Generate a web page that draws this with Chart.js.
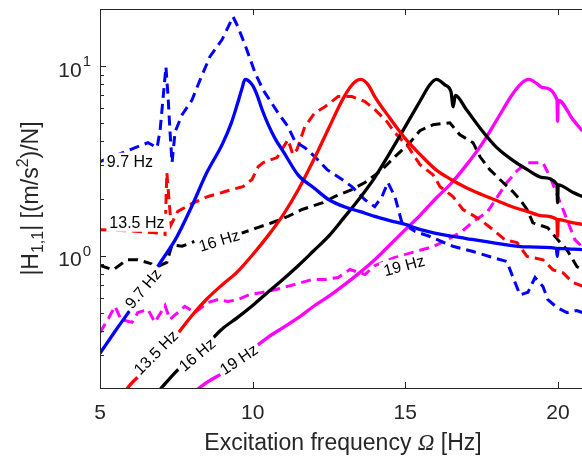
<!DOCTYPE html>
<html>
<head>
<meta charset="utf-8">
<script src="https://cdn.jsdelivr.net/npm/chart.js@4.4.1/dist/chart.umd.min.js"></script>
<style>
  html, body { margin: 0; padding: 0; background: #fff; }
  #wrap { width: 582px; height: 459px; }
</style>
</head>
<body>
<div id="wrap"><canvas id="frf" width="582" height="459"></canvas></div>
<script>
// Model FRFs (solid) - frequency [Hz] and |H11| [(m/s^2)/N]
const fBlueFit = [5.0, 5.5, 6.0, 6.5, 7.0, 7.5, 8.0, 8.5, 9.0, 9.3, 9.5, 9.65, 9.75, 9.85, 10.0, 10.15, 10.3, 10.5, 10.75, 11.0, 11.5, 12.0, 12.5, 13.0, 13.5, 14.0, 14.5, 15.0, 15.5, 16.0, 17.0, 18.0, 19.0, 19.95, 19.98, 20.01, 20.5, 20.8];
const hBlueFit = [0.305, 0.40, 0.52, 0.70, 0.93, 1.24, 1.81, 2.74, 3.85, 5.0, 6.3, 7.6, 8.5, 8.4, 7.9, 7.0, 5.95, 4.95, 4.1, 3.55, 2.65, 2.28, 1.97, 1.81, 1.71, 1.61, 1.53, 1.46, 1.37, 1.31, 1.23, 1.16, 1.11, 1.09, 0.99, 1.09, 1.08, 1.075];

const fRedFit = [5.8, 6.0, 6.5, 7.0, 7.5, 8.0, 8.5, 9.0, 9.5, 10.0, 10.5, 11.0, 11.5, 12.0, 12.5, 13.0, 13.3, 13.55, 13.8, 14.0, 14.5, 15.0, 15.5, 16.0, 16.5, 17.0, 17.5, 18.0, 18.5, 19.0, 19.5, 19.97, 19.99, 20.01, 20.4, 20.8];
const hRedFit = [0.19, 0.209, 0.25, 0.31, 0.38, 0.48, 0.59, 0.70, 0.82, 1.01, 1.27, 1.64, 2.23, 3.2, 4.73, 6.9, 8.1, 8.5, 7.9, 6.9, 5.3, 4.14, 3.4, 2.84, 2.52, 2.28, 2.1, 1.95, 1.81, 1.71, 1.62, 1.55, 1.26, 1.55, 1.5, 1.46];

const fBlackFit = [6.95, 7.5, 8.0, 8.5, 9.0, 9.5, 10.0, 10.5, 11.0, 11.5, 12.0, 12.5, 13.0, 13.5, 14.0, 14.5, 15.0, 15.5, 15.8, 16.02, 16.3, 16.5, 16.57, 16.64, 17.0, 17.5, 18.0, 18.5, 19.0, 19.5, 19.97, 19.99, 20.01, 20.5, 20.8];
const hBlackFit = [0.195, 0.245, 0.29, 0.34, 0.41, 0.47, 0.545, 0.64, 0.75, 0.886, 1.06, 1.27, 1.59, 2.0, 2.58, 3.49, 4.79, 6.6, 7.95, 8.5, 7.95, 7.3, 6.1, 7.0, 5.9, 4.6, 3.71, 3.2, 2.84, 2.58, 2.37, 1.9, 2.36, 2.15, 2.05];

const fMagFit = [8.2, 8.5, 9.0, 9.5, 10.0, 10.5, 11.0, 11.5, 12.0, 12.5, 13.0, 13.5, 14.0, 14.5, 15.0, 15.5, 16.0, 16.5, 17.0, 17.5, 18.0, 18.5, 18.8, 19.05, 19.3, 19.5, 19.97, 19.99, 20.01, 20.5, 20.8];
const hMagFit = [0.197, 0.214, 0.239, 0.27, 0.32, 0.37, 0.417, 0.47, 0.54, 0.61, 0.70, 0.81, 0.95, 1.14, 1.37, 1.64, 2.0, 2.4, 3.0, 3.85, 5.2, 7.06, 8.1, 8.5, 8.1, 7.7, 6.65, 5.1, 6.6, 5.2, 4.55];

// Measured FRFs (dashed)
const fBlueMeas = [5.0, 6.57, 6.87, 6.97, 7.16, 7.23, 7.29, 7.36, 7.46, 7.69, 8.01, 8.28, 8.6, 9.0, 9.36, 9.52, 9.81, 10.08, 10.34, 10.83, 11.16, 11.39, 11.71, 12.04, 12.44, 12.93, 13.25, 13.68, 14.0, 14.24, 14.43, 14.66, 14.89, 15.32, 15.81, 16.56, 17.22, 17.87, 18.33, 18.53, 18.76, 19.02, 19.25, 19.51, 19.67, 19.97, 20.3, 20.62, 20.8];
const hBlueMeas = [3.13, 3.94, 3.71, 4.6, 9.9, 6.9, 4.6, 3.09, 4.5, 5.54, 6.6, 8.47, 11.2, 13.8, 18.2, 16.1, 12.2, 9.2, 7.5, 5.67, 4.79, 3.99, 3.71, 3.32, 2.84, 2.52, 2.31, 1.97, 1.81, 2.05, 2.43, 2.05, 1.49, 1.34, 1.26, 1.12, 1.05, 0.976, 0.93, 0.766, 0.62, 0.64, 0.766, 0.687, 0.586, 0.532, 0.50, 0.513, 0.50];

const fRedMeas = [5.0, 6.0, 7.0, 7.13, 7.19, 7.26, 7.33, 7.55, 8.01, 8.54, 9.0, 9.32, 9.68, 9.98, 10.18, 10.34, 10.8, 11.16, 11.32, 11.45, 11.71, 12.04, 12.37, 12.8, 13.25, 13.68, 14.0, 14.4, 14.66, 15.09, 15.48, 15.91, 16.14, 16.56, 16.89, 17.45, 17.87, 18.27, 18.66, 18.99, 19.51, 19.84, 20.17, 20.49, 20.8];
const hRedMeas = [1.37, 1.35, 1.31, 1.29, 2.74, 1.97, 1.46, 1.71, 1.88, 2.05, 2.15, 2.23, 2.31, 2.52, 2.94, 3.09, 3.29, 4.09, 3.41, 3.62, 4.79, 5.67, 6.1, 6.9, 6.9, 6.5, 5.9, 5.09, 4.45, 3.76, 3.02, 2.67, 2.31, 2.05, 1.75, 1.55, 1.37, 1.21, 1.17, 0.99, 0.95, 0.84, 0.81, 0.72, 0.69];

const fBlackMeas = [5.0, 5.43, 5.88, 6.24, 6.64, 6.9, 7.19, 7.36, 7.69, 8.11, 8.93, 9.68, 10.14, 10.63, 11.16, 11.62, 12.3, 12.7, 13.25, 13.68, 14.24, 14.66, 15.15, 15.48, 15.91, 16.46, 16.79, 17.22, 17.45, 17.77, 18.17, 18.53, 18.76, 18.99, 19.18, 19.67, 20.0, 20.3, 20.62, 20.8];
const hBlackMeas = [0.886, 0.84, 0.95, 0.95, 0.91, 0.875, 0.92, 1.14, 1.12, 1.19, 1.27, 1.32, 1.40, 1.49, 1.61, 1.75, 1.9, 2.05, 2.23, 2.43, 2.84, 3.32, 3.94, 4.56, 4.9, 5.02, 4.34, 3.94, 3.32, 2.84, 2.46, 2.17, 1.97, 1.75, 1.49, 1.40, 1.21, 1.07, 0.875, 0.84];

const fMagMeas = [5.0, 5.26, 5.49, 5.69, 6.05, 6.24, 6.57, 6.8, 7.13, 7.29, 7.78, 8.11, 8.54, 8.87, 9.19, 9.52, 9.91, 10.31, 10.9, 11.49, 11.94, 12.37, 12.8, 13.19, 13.68, 14.01, 14.66, 15.91, 16.37, 16.86, 17.22, 17.68, 18.0, 18.33, 18.66, 18.99, 19.51, 19.74, 19.97, 20.17, 20.56, 20.8];
const hMagMeas = [0.393, 0.46, 0.54, 0.46, 0.444, 0.50, 0.52, 0.444, 0.545, 0.46, 0.54, 0.50, 0.565, 0.586, 0.572, 0.586, 0.623, 0.638, 0.67, 0.712, 0.747, 0.747, 0.766, 0.844, 0.794, 0.886, 0.976, 1.115, 1.21, 1.34, 1.51, 1.69, 2.02, 2.43, 2.8, 3.09, 3.09, 2.61, 2.1, 1.75, 1.21, 1.11];

// Axis ticks
const xTicks = [5, 10, 15, 20];
const yMajor = [1, 10];
const yMinor = [0.2, 0.3, 0.4, 0.5, 0.6, 0.7, 0.8, 0.9, 2, 3, 4, 5, 6, 7, 8, 9, 20];

// Inline curve labels: text, frequency, magnitude, rotation (deg)
const curveLabels = [
  ['9.7 Hz', 5.98, 3.13, 0],
  ['13.5 Hz', 6.21, 1.49, 0],
  ['16 Hz', 8.9, 1.2, -17],
  ['9.7 Hz', 6.41, 0.67, -50],
  ['13.5 Hz', 6.83, 0.308, -45],
  ['16 Hz', 8.18, 0.30, -40],
  ['19 Hz', 9.55, 0.283, -34],
  ['19 Hz', 14.96, 0.886, -15]
];

const TXT = '#262626';
const SANS = '"Liberation Sans", Arial, Helvetica, sans-serif';

function pts(f, h) {
  return f.map((v, i) => ({ x: v, y: h[i] }));
}

function fitSet(f, h, color) {
  return { data: pts(f, h), borderColor: color, borderWidth: 3.3, pointRadius: 0,
           cubicInterpolationMode: 'monotone', clip: 0, order: 0 };
}
function measSet(f, h, color) {
  return { data: pts(f, h), borderColor: color, borderWidth: 3, pointRadius: 0,
           borderDash: [10, 6], tension: 0, clip: 0, order: 1 };
}

// draw a run of text pieces (sub/superscripts) centred on (x, y)
function richText(ctx, parts, x, y, rot) {
  ctx.save();
  ctx.translate(x, y);
  ctx.rotate(rot);
  ctx.textAlign = 'left';
  ctx.textBaseline = 'alphabetic';
  let total = 0;
  parts.forEach(p => { ctx.font = p.font; p.w = ctx.measureText(p.t).width; total += p.w; });
  let cx = -total / 2;
  parts.forEach(p => { ctx.font = p.font; ctx.fillText(p.t, cx, p.dy); cx += p.w; });
  ctx.restore();
}

const frame = {
  id: 'frame',
  afterDatasetsDraw(chart) {
    const { ctx, chartArea: a, scales: { x, y } } = chart;

    // curve labels with white backing
    ctx.save();
    ctx.font = '16px ' + SANS;
    ctx.textAlign = 'center';
    ctx.textBaseline = 'middle';
    curveLabels.forEach(([t, f, h, r]) => {
      const px = x.getPixelForValue(f), py = y.getPixelForValue(h);
      const w = ctx.measureText(t).width;
      ctx.save();
      ctx.translate(px, py);
      ctx.rotate(r * Math.PI / 180);
      ctx.fillStyle = '#fff';
      ctx.fillRect(-w / 2 - 3, -9, w + 6, 18);
      ctx.fillStyle = '#000';
      ctx.fillText(t, 0, 1);
      ctx.restore();
    });
    ctx.restore();

    // box (left, bottom, top)
    ctx.save();
    ctx.strokeStyle = TXT;
    ctx.lineWidth = 1;
    ctx.beginPath();
    ctx.moveTo(a.right, a.top + 0.5);
    ctx.lineTo(a.left + 0.5, a.top + 0.5);
    ctx.lineTo(a.left + 0.5, a.bottom + 0.5);
    ctx.lineTo(a.right, a.bottom + 0.5);
    // x ticks, inward at bottom and top
    xTicks.forEach(v => {
      const px = Math.round(x.getPixelForValue(v)) + 0.5;
      ctx.moveTo(px, a.bottom); ctx.lineTo(px, a.bottom - 6);
      ctx.moveTo(px, a.top); ctx.lineTo(px, a.top + 6);
    });
    yMajor.forEach(v => {
      const py = Math.round(y.getPixelForValue(v)) + 0.5;
      ctx.moveTo(a.left, py); ctx.lineTo(a.left + 6, py);
    });
    yMinor.forEach(v => {
      const py = Math.round(y.getPixelForValue(v)) + 0.5;
      ctx.moveTo(a.left, py); ctx.lineTo(a.left + 4, py);
    });
    ctx.stroke();

    // tick labels
    ctx.fillStyle = TXT;
    ctx.font = '21px ' + SANS;
    ctx.textAlign = 'center';
    ctx.textBaseline = 'middle';
    xTicks.forEach(v => ctx.fillText(String(v), x.getPixelForValue(v), a.bottom + 25));

    yMajor.forEach(v => {
      const py = y.getPixelForValue(v);
      const exp = String(Math.round(Math.log10(v)));
      ctx.font = '15px ' + SANS;
      const we = ctx.measureText(exp).width;
      const right = a.left - 9;
      ctx.textAlign = 'left';
      ctx.fillText(exp, right - we, py - 4);
      ctx.font = '21px ' + SANS;
      ctx.textAlign = 'right';
      ctx.fillText('10', right - we - 1, py + 5);
    });

    // axis titles
    const big = '23px ' + SANS, small = '16px ' + SANS;
    richText(ctx, [
      { t: 'Excitation frequency ', font: big, dy: 0 },
      { t: 'Ω', font: 'italic 23px "Liberation Serif", "Times New Roman", serif', dy: 0 },
      { t: ' [Hz]', font: big, dy: 0 }
    ], (a.left + a.right) / 2 + 2, a.bottom + 62, 0);

    richText(ctx, [
      { t: '|H', font: big, dy: 8 },
      { t: '1,1', font: small, dy: 13 },
      { t: '| [(m/s', font: big, dy: 8 },
      { t: '2', font: small, dy: -2 },
      { t: ')/N]', font: big, dy: 8 }
    ], 30, (a.top + a.bottom) / 2, -Math.PI / 2);
    ctx.restore();
  }
};

const datasets = [
  fitSet(fBlueFit, hBlueFit, '#0000ff'),
  fitSet(fRedFit, hRedFit, '#ff0000'),
  fitSet(fBlackFit, hBlackFit, '#000000'),
  fitSet(fMagFit, hMagFit, '#ff00ff'),
  measSet(fBlueMeas, hBlueMeas, '#0000ff'),
  measSet(fRedMeas, hRedMeas, '#ff0000'),
  measSet(fBlackMeas, hBlackMeas, '#000000'),
  measSet(fMagMeas, hMagMeas, '#ff00ff')
];

new Chart(document.getElementById('frf').getContext('2d'), {
  type: 'line',
  data: { datasets },
  options: {
    responsive: false,
    animation: false,
    devicePixelRatio: 1,
    layout: { padding: { left: 100, top: 9, right: 0, bottom: 71 } },
    plugins: { legend: { display: false }, tooltip: { enabled: false } },
    scales: {
      x: { type: 'linear', min: 5, max: 20.79, display: false },
      y: { type: 'logarithmic', min: 0.2, max: 20, display: false }
    }
  },
  plugins: [frame]
});
</script>
</body>
</html>
